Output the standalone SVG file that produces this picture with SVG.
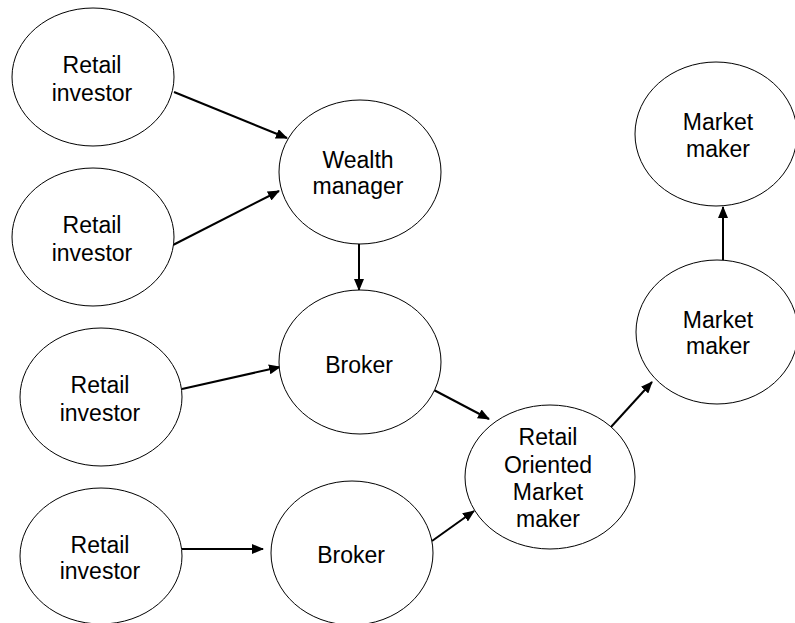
<svg xmlns="http://www.w3.org/2000/svg" width="795" height="623" viewBox="0 0 795 623">
<style>
.n{fill:#fff;stroke:#000;stroke-width:1}
.t{font-family:"Liberation Sans",Arial,sans-serif;font-size:23px;fill:#000;text-anchor:middle}
.c{stroke:#000;stroke-width:2;fill:none;marker-end:url(#a)}
</style>
<defs>
<marker id="a" markerUnits="userSpaceOnUse" markerWidth="12" markerHeight="10" refX="11" refY="5" orient="auto">
<path d="M0,0 L12,5 L0,10 z" fill="#000"/>
</marker>
</defs>
<rect width="795" height="623" fill="#fff"/>
<g id="connectors">
<line class="c" x1="174" y1="92" x2="287" y2="138"/>
<line class="c" x1="173" y1="245" x2="279" y2="191"/>
<line class="c" x1="359" y1="244" x2="359" y2="290"/>
<line class="c" x1="182" y1="389" x2="280" y2="367"/>
<line class="c" x1="182" y1="549" x2="263" y2="549"/>
<line class="c" x1="432" y1="389" x2="489" y2="419"/>
<line class="c" x1="432" y1="541" x2="474" y2="511"/>
<line class="c" x1="611" y1="427" x2="652" y2="382"/>
<line class="c" x1="723" y1="260" x2="723" y2="207"/>
</g>
<g id="retail1"><ellipse class="n" cx="93" cy="77" rx="81" ry="69"/><text class="t" x="92" y="73">Retail</text><text class="t" x="92" y="101">investor</text></g>
<g id="retail2"><ellipse class="n" cx="93" cy="237" rx="81" ry="69"/><text class="t" x="92" y="233">Retail</text><text class="t" x="92" y="261">investor</text></g>
<g id="wealth"><ellipse class="n" cx="360" cy="172" rx="81" ry="72"/><text class="t" x="358" y="168">Wealth</text><text class="t" x="358" y="194">manager</text></g>
<g id="broker1"><ellipse class="n" cx="360" cy="362" rx="81" ry="72"/><text class="t" x="359" y="373">Broker</text></g>
<g id="retail3"><ellipse class="n" cx="101" cy="397" rx="81" ry="69"/><text class="t" x="100" y="393">Retail</text><text class="t" x="100" y="421">investor</text></g>
<g id="retail4"><ellipse class="n" cx="101" cy="556" rx="81" ry="68"/><text class="t" x="100" y="553">Retail</text><text class="t" x="100" y="579">investor</text></g>
<g id="broker2"><ellipse class="n" cx="352" cy="553" rx="81" ry="72"/><text class="t" x="351" y="563">Broker</text></g>
<g id="retailmm"><ellipse class="n" cx="550" cy="477" rx="85" ry="72"/><text class="t" x="548" y="445">Retail</text><text class="t" x="548" y="473">Oriented</text><text class="t" x="548" y="500">Market</text><text class="t" x="548" y="527">maker</text></g>
<g id="mm1"><ellipse class="n" cx="717" cy="332" rx="81" ry="72"/><text class="t" x="718" y="328">Market</text><text class="t" x="718" y="354">maker</text></g>
<g id="mm2"><ellipse class="n" cx="716" cy="134" rx="81" ry="72"/><text class="t" x="718" y="130">Market</text><text class="t" x="718" y="157">maker</text></g>
</svg>
